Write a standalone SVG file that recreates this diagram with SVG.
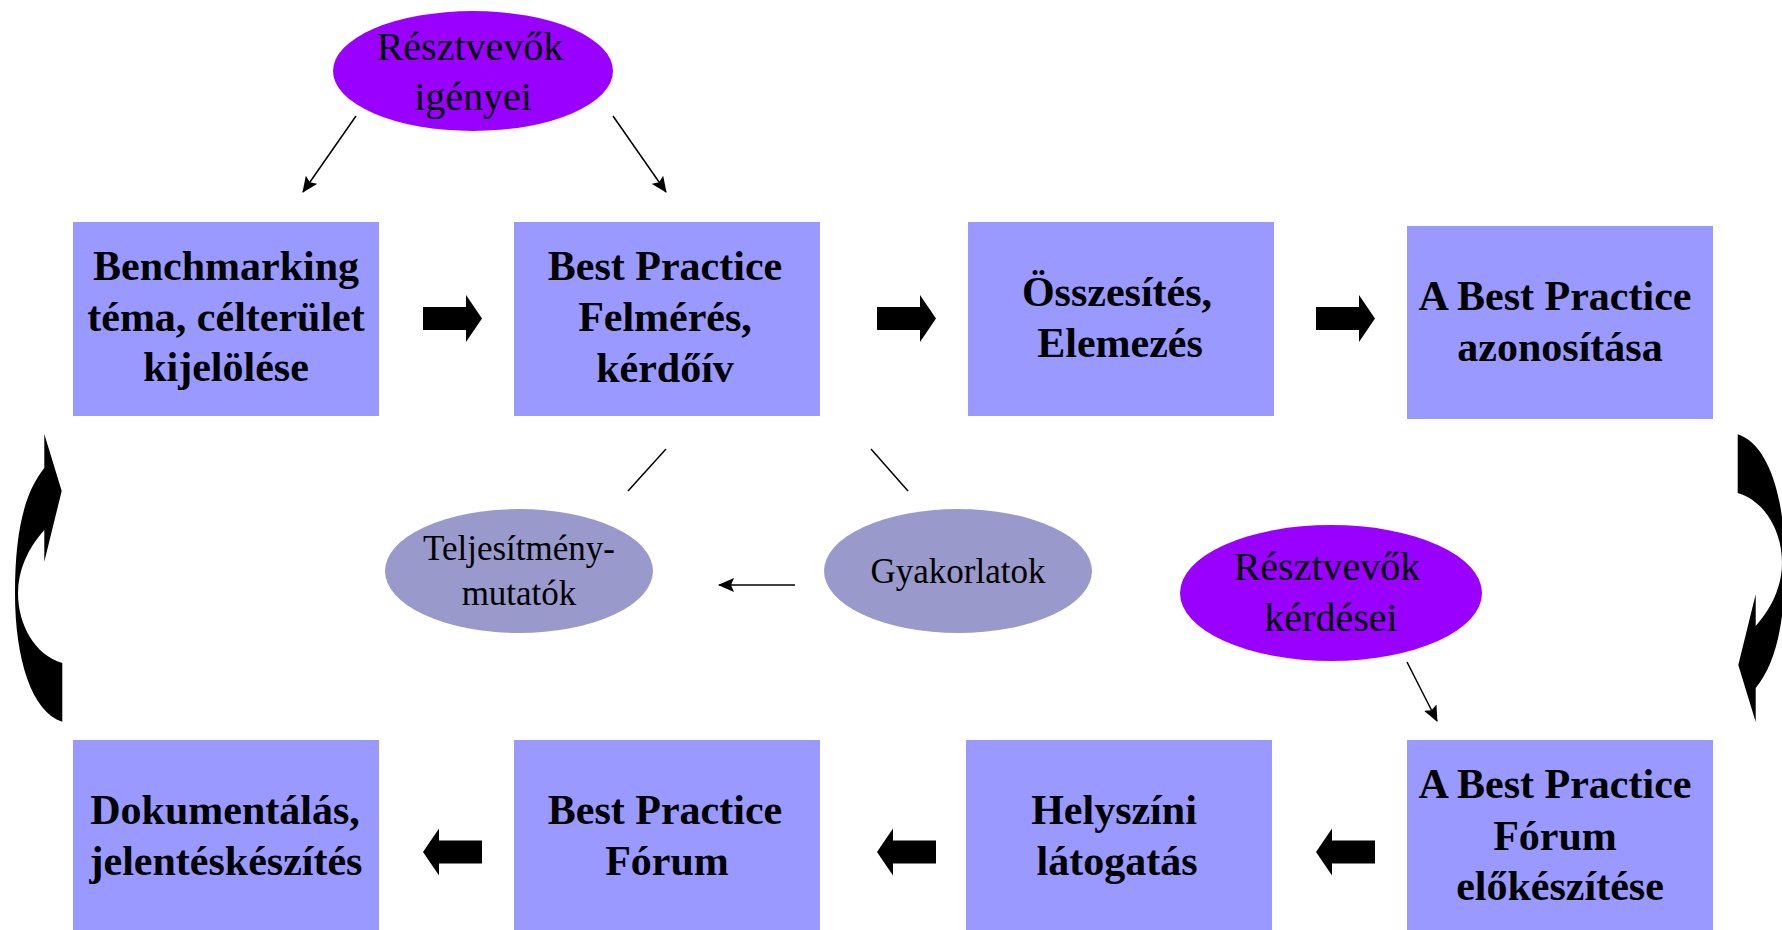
<svg xmlns="http://www.w3.org/2000/svg" width="1782" height="930" viewBox="0 0 1782 930">
<style>
.box{fill:#9999FF}
.bt{font-family:"Liberation Serif",serif;font-weight:bold;font-size:42px;fill:#000;text-anchor:middle}
.et{font-family:"Liberation Serif",serif;font-size:40px;fill:#000;text-anchor:middle}
.gt{font-family:"Liberation Serif",serif;font-size:35px;fill:#000;text-anchor:middle}
.purple{fill:#9900FF}
.grey{fill:#9999CC}
.thin{stroke:#000;stroke-width:1.5;fill:none}
.blk{fill:#000}
</style>
<defs>
<marker id="ah" viewBox="0 0 16 14" refX="15" refY="7" markerWidth="16" markerHeight="14" markerUnits="userSpaceOnUse" orient="auto">
<path d="M0,0 L16,7 L0,14 L3,7 Z" fill="#000"/>
</marker>
<polygon id="barrow" points="0,-11.5 43,-11.5 43,-23.5 59,0 43,23.5 43,11.5 0,11.5"/>
<path id="curv" d="M44.3,434 L61.7,491 L44.3,561.7 L44.3,530 C28,548 18,570 18,593 C18,625 35,655 62.3,663 L62.3,721.7 C32,712 15,660 15,593 C15,530 25,492 44.3,468 Z"/>
</defs>

<g id="connectors">
<line class="thin" x1="356" y1="116" x2="303" y2="192" marker-end="url(#ah)"/>
<line class="thin" x1="613" y1="116" x2="666" y2="192" marker-end="url(#ah)"/>
<line class="thin" x1="666" y1="449" x2="628" y2="491"/>
<line class="thin" x1="871" y1="449" x2="908" y2="491"/>
<line class="thin" x1="795" y1="585" x2="719" y2="585" marker-end="url(#ah)"/>
<line class="thin" x1="1407" y1="662" x2="1437" y2="721" marker-end="url(#ah)"/>
<use href="#barrow" class="blk" transform="translate(423,318.5)"/>
<use href="#barrow" class="blk" transform="translate(877,318.5)"/>
<use href="#barrow" class="blk" transform="translate(1316,318.5)"/>
<use href="#barrow" class="blk" transform="translate(482,852) scale(-1,1)"/>
<use href="#barrow" class="blk" transform="translate(936,852) scale(-1,1)"/>
<use href="#barrow" class="blk" transform="translate(1375,852) scale(-1,1)"/>
<use href="#curv" class="blk"/>
<use href="#curv" class="blk" transform="translate(1800,1156) rotate(180)"/>
</g>

<g id="n-igenyei">
<ellipse class="purple" cx="473" cy="71" rx="140" ry="60"/>
<text class="et" x="470" y="60">Résztvevők</text>
<text class="et" x="473" y="110">igényei</text>
</g>

<g id="n-benchmarking">
<rect class="box" x="73" y="222" width="306" height="194"/>
<text class="bt" x="226" y="280">Benchmarking</text>
<text class="bt" x="226" y="331">téma, célterület</text>
<text class="bt" x="226" y="381">kijelölése</text>
</g>

<g id="n-felmeres">
<rect class="box" x="514" y="222" width="306" height="194"/>
<text class="bt" x="665" y="280">Best Practice</text>
<text class="bt" x="665" y="331">Felmérés,</text>
<text class="bt" x="665" y="382">kérdőív</text>
</g>

<g id="n-osszesites">
<rect class="box" x="968" y="222" width="306" height="194"/>
<text class="bt" x="1117" y="306">Összesítés,</text>
<text class="bt" x="1120" y="357">Elemezés</text>
</g>

<g id="n-azonositas">
<rect class="box" x="1407" y="226" width="306" height="193"/>
<text class="bt" x="1555" y="310">A Best Practice</text>
<text class="bt" x="1560" y="361">azonosítása</text>
</g>

<g id="n-teljesitmeny">
<ellipse class="grey" cx="519" cy="571" rx="134" ry="62"/>
<text class="gt" x="519" y="560">Teljesítmény-</text>
<text class="gt" x="519" y="605">mutatók</text>
</g>

<g id="n-gyakorlatok">
<ellipse class="grey" cx="958" cy="571" rx="134" ry="62"/>
<text class="gt" x="958" y="583">Gyakorlatok</text>
</g>

<g id="n-kerdesei">
<ellipse class="purple" cx="1331" cy="593" rx="151" ry="68"/>
<text class="et" x="1327" y="580">Résztvevők</text>
<text class="et" x="1331" y="631">kérdései</text>
</g>

<g id="n-dokumentalas">
<rect class="box" x="73" y="740" width="306" height="190"/>
<text class="bt" x="225" y="824">Dokumentálás,</text>
<text class="bt" x="226" y="875">jelentéskészítés</text>
</g>

<g id="n-forum">
<rect class="box" x="514" y="740" width="306" height="190"/>
<text class="bt" x="665" y="824">Best Practice</text>
<text class="bt" x="667" y="875">Fórum</text>
</g>

<g id="n-helyszini">
<rect class="box" x="966" y="740" width="306" height="190"/>
<text class="bt" x="1114" y="824">Helyszíni</text>
<text class="bt" x="1117" y="875">látogatás</text>
</g>

<g id="n-elokeszites">
<rect class="box" x="1407" y="740" width="306" height="190"/>
<text class="bt" x="1555" y="798">A Best Practice</text>
<text class="bt" x="1555" y="850">Fórum</text>
<text class="bt" x="1560" y="900">előkészítése</text>
</g>
</svg>
